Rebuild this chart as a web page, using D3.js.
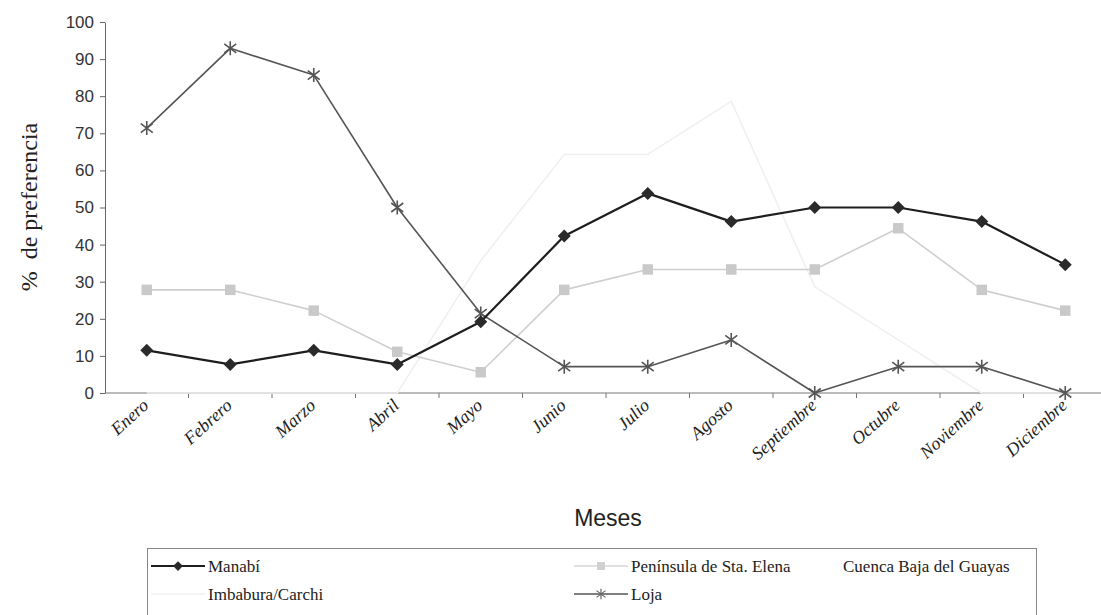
<!DOCTYPE html>
<html>
<head>
<meta charset="utf-8">
<script src="https://cdn.jsdelivr.net/npm/d3@7"></script>
<style>
  html, body { margin: 0; padding: 0; background: #fff; }
  svg { display: block; }
</style>
</head>
<body>
<svg id="chart" width="1101" height="615"></svg>
<script>
// Months on the category axis
const months = ["Enero", "Febrero", "Marzo", "Abril", "Mayo", "Junio", "Julio",
  "Agosto", "Septiembre", "Octubre", "Noviembre", "Diciembre"];

// % de preferencia por zona y mes
const manabi     = [11.5, 7.7, 11.5, 7.7, 19.2, 42.3, 53.8, 46.2, 50.0, 50.0, 46.2, 34.6];
const peninsula  = [27.8, 27.8, 22.2, 11.1, 5.6, 27.8, 33.3, 33.3, 33.3, 44.4, 27.8, 22.2];
const imbabura   = [0, 0, 0, 0, 35.7, 64.3, 64.3, 78.6, 28.6, 14.3, 0, 0];
const loja       = [71.4, 92.9, 85.7, 50.0, 21.4, 7.1, 7.1, 14.3, 0, 7.1, 7.1, 0];

const yTicks = [0, 10, 20, 30, 40, 50, 60, 70, 80, 90, 100];

const svg = d3.select("#chart");

const x = d3.scaleBand().domain(months).range([105, 1107]).padding(0);
const y = d3.scaleLinear().domain([0, 100]).range([393, 22]);
const cx = m => x(m) + x.bandwidth() / 2;

// Y axis
const yAxis = d3.axisLeft(y).tickValues(yTicks).tickSize(5).tickPadding(6).tickSizeOuter(0);
const gy = svg.append("g").attr("transform", `translate(${x.range()[0]},0)`).call(yAxis);
gy.select(".domain").attr("stroke", "#666").attr("stroke-width", 1);
gy.selectAll(".tick line").attr("stroke", "#666");
gy.selectAll(".tick text")
  .attr("font-family", "Liberation Sans, Arial, sans-serif")
  .attr("font-size", 17).attr("fill", "#333");

// X axis: baseline with tick marks at category boundaries
const gx = svg.append("g").attr("transform", `translate(0,${y(0)})`);
gx.append("line").attr("x1", x.range()[0]).attr("x2", x.range()[1])
  .attr("stroke", "#777").attr("stroke-width", 1);
gx.selectAll("line.tk").data(months.slice(1)).join("line").attr("class", "tk")
  .attr("x1", d => x(d)).attr("x2", d => x(d)).attr("y1", 0).attr("y2", 5)
  .attr("stroke", "#777");
gx.selectAll("text").data(months).join("text")
  .attr("transform", d => `translate(${cx(d) + 3},${14}) rotate(-42)`)
  .attr("text-anchor", "end")
  .attr("font-family", "Liberation Serif, Times New Roman, serif")
  .attr("font-style", "italic")
  .attr("font-size", 18).attr("fill", "#222")
  .text(d => d);

// Axis titles
svg.append("text")
  .attr("transform", "translate(37,207) rotate(-90)")
  .attr("text-anchor", "middle")
  .attr("font-family", "Liberation Serif, Times New Roman, serif")
  .attr("font-size", 24).attr("fill", "#222")
  .attr("xml:space", "preserve")
  .text("%  de preferencia");
svg.append("text")
  .attr("x", 608).attr("y", 526).attr("text-anchor", "middle")
  .attr("font-family", "Liberation Sans, Arial, sans-serif")
  .attr("font-size", 23).attr("fill", "#222")
  .text("Meses");

// Marker shapes
const diamond = "M0,-6.5L6.5,0L0,6.5L-6.5,0Z";
const square = d3.symbol().type(d3.symbolSquare).size(110);
const star = "M0,-7L0,7M-6,-4.5L6,4.5M-6,4.5L6,-4.5";

const series = [
  { name: "Imbabura/Carchi", values: imbabura, stroke: "#f0f0f0", width: 1.6, marker: null, fill: null },
  { name: "Península de Sta. Elena", values: peninsula, stroke: "#cfcfcf", width: 1.6, marker: "square", fill: "#c9c9c9" },
  { name: "Loja", values: loja, stroke: "#555", width: 1.6, marker: "star", fill: "#555" },
  { name: "Manabí", values: manabi, stroke: "#1e1e1e", width: 2.2, marker: "diamond", fill: "#2a2a2a" }
];

const line = d3.line().x((d, i) => cx(months[i])).y(d => y(d));

function drawMarker(g, type, fill) {
  if (type === "diamond") g.append("path").attr("d", diamond).attr("fill", fill);
  else if (type === "square") g.append("path").attr("d", square).attr("fill", fill);
  else if (type === "star") g.append("path").attr("d", star).attr("stroke", fill)
    .attr("stroke-width", 1.6).attr("fill", "none");
}

series.forEach(s => {
  svg.append("path").datum(s.values)
    .attr("d", line).attr("fill", "none")
    .attr("stroke", s.stroke).attr("stroke-width", s.width)
    .attr("stroke-linejoin", "round");
  if (s.marker) {
    s.values.forEach((v, i) => {
      const g = svg.append("g").attr("transform", `translate(${cx(months[i])},${y(v)})`);
      drawMarker(g, s.marker, s.fill);
    });
  }
});

// Legend
const legend = svg.append("g");
legend.append("rect").attr("x", 147.5).attr("y", 548.5).attr("width", 889).attr("height", 80)
  .attr("fill", "#fff").attr("stroke", "#888").attr("stroke-width", 1);

const legendItems = [
  { name: "Manabí", col: 0, row: 0, stroke: "#1e1e1e", width: 2, marker: "diamond", fill: "#2a2a2a" },
  { name: "Península de Sta. Elena", col: 1, row: 0, stroke: "#d6d6d6", width: 1.6, marker: "square", fill: "#cfcfcf" },
  { name: "Cuenca Baja del Guayas", col: 2, row: 0, stroke: "#ffffff", width: 1.6, marker: null, fill: null },
  { name: "Imbabura/Carchi", col: 0, row: 1, stroke: "#f0f0f0", width: 1.6, marker: null, fill: null },
  { name: "Loja", col: 1, row: 1, stroke: "#555", width: 1.4, marker: "star", fill: "#666" }
];
const colX = [151, 574, 788];
const rowY = [566, 594];

legendItems.forEach(it => {
  const g = legend.append("g").attr("transform", `translate(${colX[it.col]},${rowY[it.row]})`);
  g.append("line").attr("x1", 0).attr("x2", 54).attr("y1", 0).attr("y2", 0)
    .attr("stroke", it.stroke).attr("stroke-width", it.width);
  if (it.marker) {
    const m = g.append("g").attr("transform", "translate(27,0) scale(0.75)");
    drawMarker(m, it.marker, it.fill);
  }
  g.append("text").attr("x", it.col === 2 ? 55 : 57).attr("y", 6)
    .attr("font-family", "Liberation Serif, Times New Roman, serif")
    .attr("font-size", 17).attr("fill", "#222")
    .text(it.name);
});
</script>
</body>
</html>
